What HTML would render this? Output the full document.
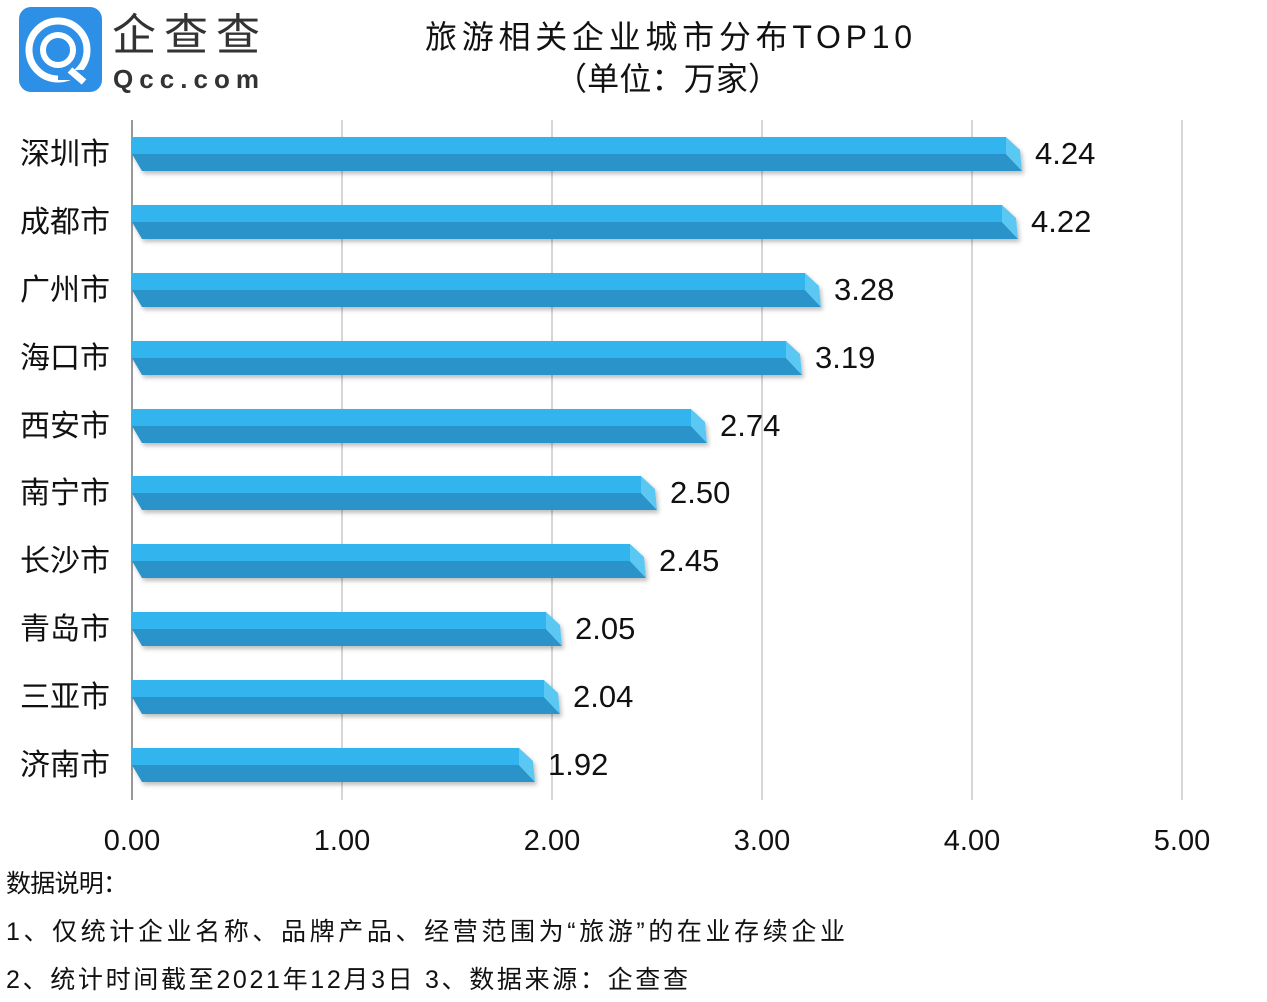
<!DOCTYPE html><html><head><meta charset="utf-8"><style>
body{margin:0;background:#fff;width:1267px;height:997px;overflow:hidden}
</style></head><body>
<svg width="1267" height="997" xmlns="http://www.w3.org/2000/svg" font-family="Liberation Sans, Noto Sans CJK SC, sans-serif">
<defs><filter id="s" x="-5%" y="-30%" width="110%" height="180%"><feDropShadow dx="2" dy="3" stdDeviation="2" flood-color="#000" flood-opacity="0.25"/></filter>
<g id="lbl"></g></defs>
<rect x="19" y="7" width="83" height="85" rx="12" fill="#2d8fe6"/>
<circle cx="58" cy="50" r="29" fill="none" stroke="#fff" stroke-width="7"/>
<circle cx="58" cy="50" r="15" fill="none" stroke="#fff" stroke-width="6"/>
<rect x="58" y="70" width="28" height="10" fill="#2d8fe6"/>
<line x1="70" y1="70" x2="84" y2="82" stroke="#fff" stroke-width="7"/>
<text x="112" y="50" font-size="44" fill="#333" textLength="148">企查查</text>
<text x="113" y="88" font-size="26" fill="#333" font-weight="bold" textLength="146">Qcc.com</text>
<text x="425" y="48" font-size="32" fill="#111" textLength="487">旅游相关企业城市分布TOP10</text>
<text x="555" y="90" font-size="32" fill="#111" textLength="225">（单位：万家）</text>
<g stroke="#c8c8c8" stroke-width="1.5">
<line x1="342" y1="120" x2="342" y2="800"/><line x1="552" y1="120" x2="552" y2="800"/><line x1="762" y1="120" x2="762" y2="800"/><line x1="972" y1="120" x2="972" y2="800"/><line x1="1182" y1="120" x2="1182" y2="800"/>
</g>
<line x1="132" y1="120" x2="132" y2="800" stroke="#999" stroke-width="2"/>

<g transform="translate(0,153)"><g filter="url(#s)"><polygon points="132,-16 1006,-16 1006,1 132,1" fill="#32b5ee"/><polygon points="132,1 1006,1 1022,18 142,18" fill="#2a93c9"/><polygon points="1006,-16 1020,-3 1022,18 1006,1" fill="#5ac8f2"/></g></g>
<g transform="translate(0,221)"><g filter="url(#s)"><polygon points="132,-16 1002,-16 1002,1 132,1" fill="#32b5ee"/><polygon points="132,1 1002,1 1018,18 142,18" fill="#2a93c9"/><polygon points="1002,-16 1016,-3 1018,18 1002,1" fill="#5ac8f2"/></g></g>
<g transform="translate(0,289)"><g filter="url(#s)"><polygon points="132,-16 805,-16 805,1 132,1" fill="#32b5ee"/><polygon points="132,1 805,1 821,18 142,18" fill="#2a93c9"/><polygon points="805,-16 819,-3 821,18 805,1" fill="#5ac8f2"/></g></g>
<g transform="translate(0,357)"><g filter="url(#s)"><polygon points="132,-16 786,-16 786,1 132,1" fill="#32b5ee"/><polygon points="132,1 786,1 802,18 142,18" fill="#2a93c9"/><polygon points="786,-16 800,-3 802,18 786,1" fill="#5ac8f2"/></g></g>
<g transform="translate(0,425)"><g filter="url(#s)"><polygon points="132,-16 691,-16 691,1 132,1" fill="#32b5ee"/><polygon points="132,1 691,1 707,18 142,18" fill="#2a93c9"/><polygon points="691,-16 705,-3 707,18 691,1" fill="#5ac8f2"/></g></g>
<g transform="translate(0,492)"><g filter="url(#s)"><polygon points="132,-16 641,-16 641,1 132,1" fill="#32b5ee"/><polygon points="132,1 641,1 657,18 142,18" fill="#2a93c9"/><polygon points="641,-16 655,-3 657,18 641,1" fill="#5ac8f2"/></g></g>
<g transform="translate(0,560)"><g filter="url(#s)"><polygon points="132,-16 630,-16 630,1 132,1" fill="#32b5ee"/><polygon points="132,1 630,1 646,18 142,18" fill="#2a93c9"/><polygon points="630,-16 644,-3 646,18 630,1" fill="#5ac8f2"/></g></g>
<g transform="translate(0,628)"><g filter="url(#s)"><polygon points="132,-16 546,-16 546,1 132,1" fill="#32b5ee"/><polygon points="132,1 546,1 562,18 142,18" fill="#2a93c9"/><polygon points="546,-16 560,-3 562,18 546,1" fill="#5ac8f2"/></g></g>
<g transform="translate(0,696)"><g filter="url(#s)"><polygon points="132,-16 544,-16 544,1 132,1" fill="#32b5ee"/><polygon points="132,1 544,1 560,18 142,18" fill="#2a93c9"/><polygon points="544,-16 558,-3 560,18 544,1" fill="#5ac8f2"/></g></g>
<g transform="translate(0,764)"><g filter="url(#s)"><polygon points="132,-16 519,-16 519,1 132,1" fill="#32b5ee"/><polygon points="132,1 519,1 535,18 142,18" fill="#2a93c9"/><polygon points="519,-16 533,-3 535,18 519,1" fill="#5ac8f2"/></g></g>

<g font-size="30" fill="#111">
<text x="20" y="164" textLength="90">深圳市</text>
<text x="20" y="232" textLength="90">成都市</text>
<text x="20" y="300" textLength="90">广州市</text>
<text x="20" y="368" textLength="90">海口市</text>
<text x="20" y="436" textLength="90">西安市</text>
<text x="20" y="503" textLength="90">南宁市</text>
<text x="20" y="571" textLength="90">长沙市</text>
<text x="20" y="639" textLength="90">青岛市</text>
<text x="20" y="707" textLength="90">三亚市</text>
<text x="20" y="775" textLength="90">济南市</text>
</g>
<g font-size="31" fill="#111">
<text x="1035" y="164">4.24</text>
<text x="1031" y="232">4.22</text>
<text x="834" y="300">3.28</text>
<text x="815" y="368">3.19</text>
<text x="720" y="436">2.74</text>
<text x="670" y="503">2.50</text>
<text x="659" y="571">2.45</text>
<text x="575" y="639">2.05</text>
<text x="573" y="707">2.04</text>
<text x="548" y="775">1.92</text>
</g>
<g font-size="29" fill="#111" text-anchor="middle">
<text x="132" y="850">0.00</text><text x="342" y="850">1.00</text><text x="552" y="850">2.00</text><text x="762" y="850">3.00</text><text x="972" y="850">4.00</text><text x="1182" y="850">5.00</text>
</g>
<g font-size="25" fill="#111">
<text x="6" y="892" textLength="122">数据说明：</text>
<text x="6" y="940" textLength="839">1、仅统计企业名称、品牌产品、经营范围为“旅游”的在业存续企业</text>
<text x="6" y="988" textLength="682">2、统计时间截至2021年12月3日  3、数据来源：企查查</text>
</g>
</svg>
</body></html>
